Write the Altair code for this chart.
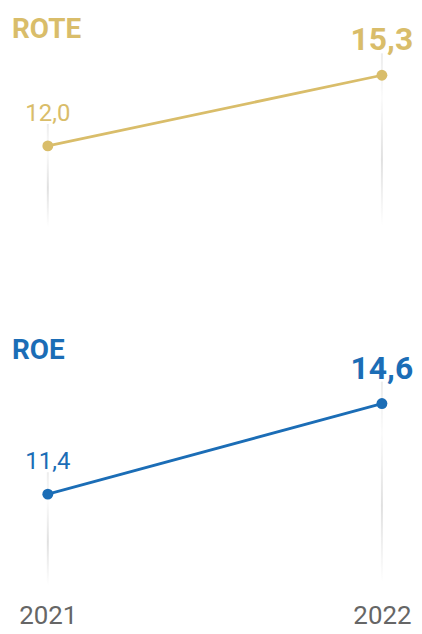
import altair as alt
import pandas as pd

years = [2021, 2022]
rote = [12.0, 15.3]
roe = [11.4, 14.6]

GOLD = "#D9BD6A"
BLUE = "#1B6DB6"
FONT = "Roboto"

W = 406
X_DOMAIN = [2020.8957, 2022.0752]


def panel(name, values, color, height, y_domain, show_axis):
    df = pd.DataFrame({"year": years, "value": values})
    base = alt.Chart(df).transform_calculate(
        label="replace(format(datum.value, '.1f'), '.', ',')"
    )
    x_axis = (
        alt.Axis(values=years, format="d", domain=False, ticks=False, grid=False,
                 labelFontSize=26, labelColor="#666666", labelFont=FONT,
                 labelPadding=14, title=None)
        if show_axis else None
    )
    x = alt.X("year:Q", scale=alt.Scale(domain=X_DOMAIN, nice=False, zero=False),
              axis=x_axis)
    y = alt.Y("value:Q", scale=alt.Scale(domain=y_domain, nice=False, zero=False),
              axis=None)

    grad = alt.LinearGradient(
        gradient="linear", x1=0, x2=0, y1=0, y2=1,
        stops=[
            alt.GradientStop(offset=0, color="#ececec"),
            alt.GradientStop(offset=0.25, color="#fbfbfb"),
            alt.GradientStop(offset=0.6, color="#e0e0e0"),
            alt.GradientStop(offset=0.97, color="#ffffff"),
        ],
    )
    rules = base.mark_bar(width=2, color=grad, yOffset=-22).encode(
        x=x, y=y, y2=alt.datum(y_domain[0])
    )
    line = base.mark_line(color=color, strokeWidth=2.8).encode(x=x, y=y)
    pts = base.mark_circle(color=color, size=120, opacity=1).encode(x=x, y=y)
    lab_first = base.transform_filter(f"datum.year == {years[0]}").mark_text(
        color=color, font=FONT, fontSize=24, dy=-25, baseline="alphabetic"
    ).encode(x=x, y=y, text="label:N")
    lab_last = base.transform_filter(f"datum.year == {years[-1]}").mark_text(
        color=color, font=FONT, fontSize=32, fontWeight="bold", dy=-25,
        baseline="alphabetic"
    ).encode(x=x, y=y, text="label:N")
    title = alt.Chart(pd.DataFrame({"t": [name]})).mark_text(
        color=color, font=FONT, fontSize=28, fontWeight="bold", align="left",
        baseline="alphabetic"
    ).encode(x=alt.value(4), y=alt.value(29), text="t:N")
    return alt.layer(rules, line, pts, lab_first, lab_last, title).properties(
        width=W, height=height
    )


top = panel("ROTE", rote, GOLD, 222, [8.05, 18.37], False)
bottom = panel("ROE", roe, BLUE, 260, [8.06, 17.20], True)

chart = alt.vconcat(top, bottom, spacing=100).properties(
    padding=0, background="white"
).configure_view(stroke=None)

chart.save("out.html", embed_options={"renderer": "svg", "actions": False})
